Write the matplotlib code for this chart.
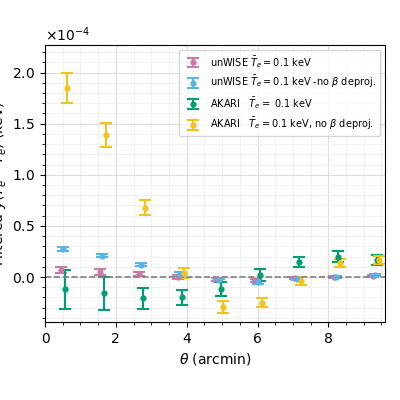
import matplotlib
matplotlib.use("Agg")
import matplotlib.pyplot as plt
import numpy as np

theta = np.array([0.46,1.56,2.66,3.76,4.86,5.96,7.06,8.16,9.26])
pink = [0.07,0.05,0.03,0.0,-0.02,-0.03,-0.01,0.0,0.01]
pink_e = [0.03,0.03,0.02,0.015,0.015,0.015,0.01,0.01,0.01]
blue = [0.27,0.21,0.12,0.03,-0.03,-0.05,-0.02,0.0,0.02]
blue_e = [0.02,0.015,0.015,0.02,0.015,0.015,0.01,0.01,0.01]
green = [-0.12,-0.16,-0.21,-0.20,-0.12,0.02,0.15,0.20,0.17]
green_e = [0.19,0.16,0.10,0.07,0.07,0.06,0.05,0.05,0.05]
yellow = [1.85,1.39,0.68,0.04,-0.29,-0.25,-0.04,0.14,0.17]
yellow_e = [0.15,0.12,0.07,0.05,0.06,0.04,0.04,0.04,0.04]

fig, ax = plt.subplots(figsize=(4,4), dpi=100)
s = 1e-4
kw = dict(fmt='o', ms=3.5, capsize=4, elinewidth=1.5, capthick=1.5)
ax.errorbar(theta, np.array(pink)*s, np.array(pink_e)*s, color='#cc79a7', label=r'unWISE $\bar{T}_e = 0.1$ keV', **kw)
ax.errorbar(theta+0.05, np.array(blue)*s, np.array(blue_e)*s, color='#56b4e9', label=r'unWISE $\bar{T}_e = 0.1$ keV -no $\beta$ deproj.', **kw)
ax.errorbar(theta+0.11, np.array(green)*s, np.array(green_e)*s, color='#009e73', label=r'AKARI   $\bar{T}_e =$ 0.1 keV', **kw)
ax.errorbar(theta+0.16, np.array(yellow)*s, np.array(yellow_e)*s, color='#f5c218', label=r'AKARI   $\bar{T}_e = 0.1$ keV, no $\beta$ deproj.', **kw)
ax.axhline(0, color='gray', ls='--', lw=1.2)
ax.set_xlim(0.0, 9.6)
ax.set_ylim(-0.44e-4, 2.27e-4)
ax.minorticks_on()
ax.grid(True, which='major', color='#dddddd', lw=0.8)
ax.grid(True, which='minor', color='#eeeeee', lw=0.6)
ax.ticklabel_format(axis='y', style='sci', scilimits=(0,0), useMathText=True)
ax.set_xlabel(r'$\theta$ (arcmin)')
ax.set_ylabel(r'Filtered $y(T_e - \bar{T}_e)$ (keV)', labelpad=2)
ax.legend(loc='upper right', fontsize=7)
fig.subplots_adjust(left=0.1125, right=0.9625, top=0.8875, bottom=0.195)
fig.savefig('out.png')
